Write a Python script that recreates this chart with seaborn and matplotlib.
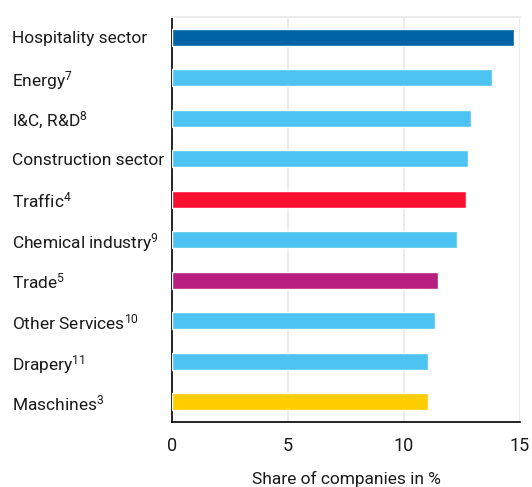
import matplotlib
matplotlib.use("Agg")
import matplotlib.pyplot as plt
import seaborn as sns
import pandas as pd

# Sectors (top to bottom) and their share of companies in %
sectors = [
    "Hospitality sector",
    "Energy$^{7}$",
    "I&C, R&D$^{8}$",
    "Construction sector",
    "Traffic$^{4}$",
    "Chemical industry$^{9}$",
    "Trade$^{5}$",
    "Other Services$^{10}$",
    "Drapery$^{11}$",
    "Maschines$^{3}$",
]
shares = [14.75, 13.78, 12.89, 12.74, 12.67, 12.28, 11.47, 11.33, 11.04, 11.03]
bar_colors = [
    "#0063a6", "#4dc3f1", "#4dc3f1", "#4dc3f1", "#ff0f32",
    "#4dc3f1", "#b81f80", "#4dc3f1", "#4dc3f1", "#ffcc00",
]
x_ticks = [0, 5, 10, 15]
x_label = "Share of companies in %"

sns.set_style("white")
font = "Roboto"
plt.rcParams["font.family"] = [font, "DejaVu Sans"]
plt.rcParams["mathtext.fontset"] = "custom"
plt.rcParams["mathtext.rm"] = font
plt.rcParams["mathtext.it"] = font
plt.rcParams["mathtext.default"] = "rm"

df = pd.DataFrame({"sector": sectors, "share": shares})

fig = plt.figure(figsize=(5.32, 4.87), dpi=100)
ax = fig.add_axes([172 / 532, 1 - 422 / 487, 348 / 532, 405 / 487])

sns.barplot(data=df, y="sector", x="share", hue="sector", palette=bar_colors,
            order=sectors, hue_order=sectors, width=0.42, legend=False,
            saturation=1, ax=ax, zorder=3)

ax.set_xlim(0, 15)
ax.set_ylim(9.5, -0.5)
ax.set_xticks(x_ticks)
ax.set_xticklabels([str(t) for t in x_ticks])

# vertical grid lines
for t in x_ticks[1:]:
    ax.axvline(t, color="#ececec", lw=1.5, zorder=0)

# category boundaries as y-ticks, names as minor tick labels
ax.set_yticks([i - 0.5 for i in range(len(sectors) + 1)], minor=False)
ax.set_yticklabels([])
ax.set_yticks(range(len(sectors)), minor=True)
ax.set_yticklabels(sectors, minor=True, ha="left")
ax.tick_params(axis="y", which="major", direction="out", length=6, width=1.2, color="black")
ax.tick_params(axis="y", which="minor", length=0, pad=(172 - 12) * 0.72,
               labelsize=12.5, labelcolor="#1a1a1a")
ax.tick_params(axis="x", direction="out", length=6, width=1.2, color="black",
               labelsize=13, pad=5, labelcolor="#1a1a1a")

ax.set_xlabel(x_label, fontsize=12.5, labelpad=11, color="#1a1a1a")
ax.set_ylabel("")

ax.spines["left"].set_color("black")
ax.spines["left"].set_linewidth(1.2)
ax.spines["bottom"].set_color("black")
ax.spines["bottom"].set_linewidth(1.2)
ax.spines["top"].set_color("#ececec")
ax.spines["top"].set_linewidth(1.5)
ax.spines["right"].set_visible(False)

fig.savefig("out.png", dpi=100)
